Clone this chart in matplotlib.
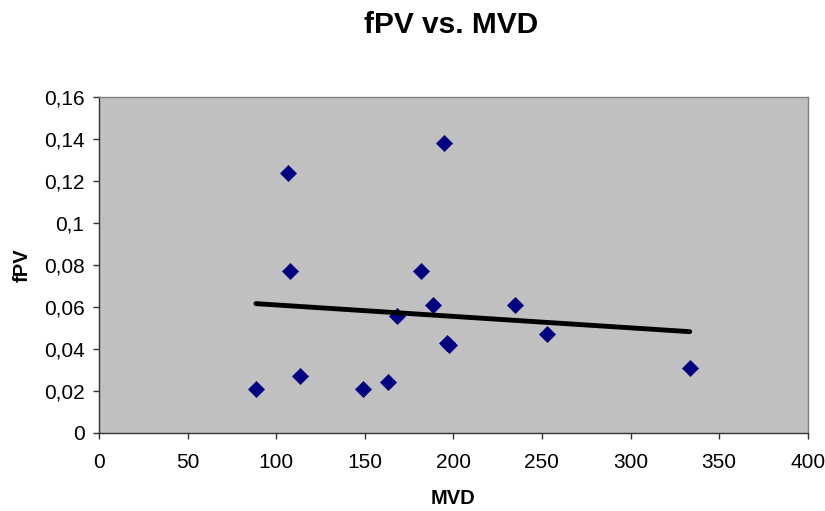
import numpy as np
from matplotlib import pyplot as plt
from matplotlib.ticker import FuncFormatter

# values
mvd = [88.6, 106.6, 107.8, 113.4, 148.9, 163.0, 168.0, 181.7, 188.4, 194.6,
       196.5, 197.8, 234.7, 252.8, 333.4]
fpv = [0.021, 0.124, 0.077, 0.027, 0.021, 0.0243, 0.0557, 0.077, 0.061, 0.138,
       0.043, 0.042, 0.061, 0.047, 0.031]

x_ticks = [0, 50, 100, 150, 200, 250, 300, 350, 400]
y_ticks = [0, 0.02, 0.04, 0.06, 0.08, 0.1, 0.12, 0.14, 0.16]

plt.rcParams['font.family'] = ['Liberation Sans', 'DejaVu Sans']

fig = plt.figure(figsize=(8.25, 5.11), dpi=100)
ax = fig.add_axes([0.12, 0.153, 0.859, 0.657])
ax.set_facecolor('#c0c0c0')

ax.scatter(mvd, fpv, marker='D', s=75, color='#000080', zorder=3, linewidths=0)

# linear trendline across the data range
slope, intercept = np.polyfit(mvd, fpv, 1)
tx = np.array([min(mvd), max(mvd)])
ax.plot(tx, slope * tx + intercept, color='black', lw=3.5, zorder=4, solid_capstyle='round')

ax.set_xlim(0, 400)
ax.set_ylim(0, 0.16)
ax.set_xticks(x_ticks)
ax.set_yticks(y_ticks)
ax.yaxis.set_major_formatter(FuncFormatter(lambda v, p: ('%g' % v).replace('.', ',')))
ax.tick_params(direction='out', length=4.5, width=1, color='#333333', labelsize=15)
ax.tick_params(axis='x', pad=10)
ax.tick_params(axis='y', pad=6)

for name, sp in ax.spines.items():
    sp.set_color('#808080')
    sp.set_linewidth(1)
ax.spines['left'].set_color('#333333')
ax.spines['bottom'].set_color('#333333')

ax.set_xlabel('MVD', fontsize=14.5, fontweight='bold', labelpad=12)
ax.set_ylabel('fPV', fontsize=14.5, fontweight='bold', labelpad=9)
fig.suptitle('fPV vs. MVD', x=0.547, y=0.978, fontsize=21.5, fontweight='bold')

fig.savefig('out.png', dpi=100)
